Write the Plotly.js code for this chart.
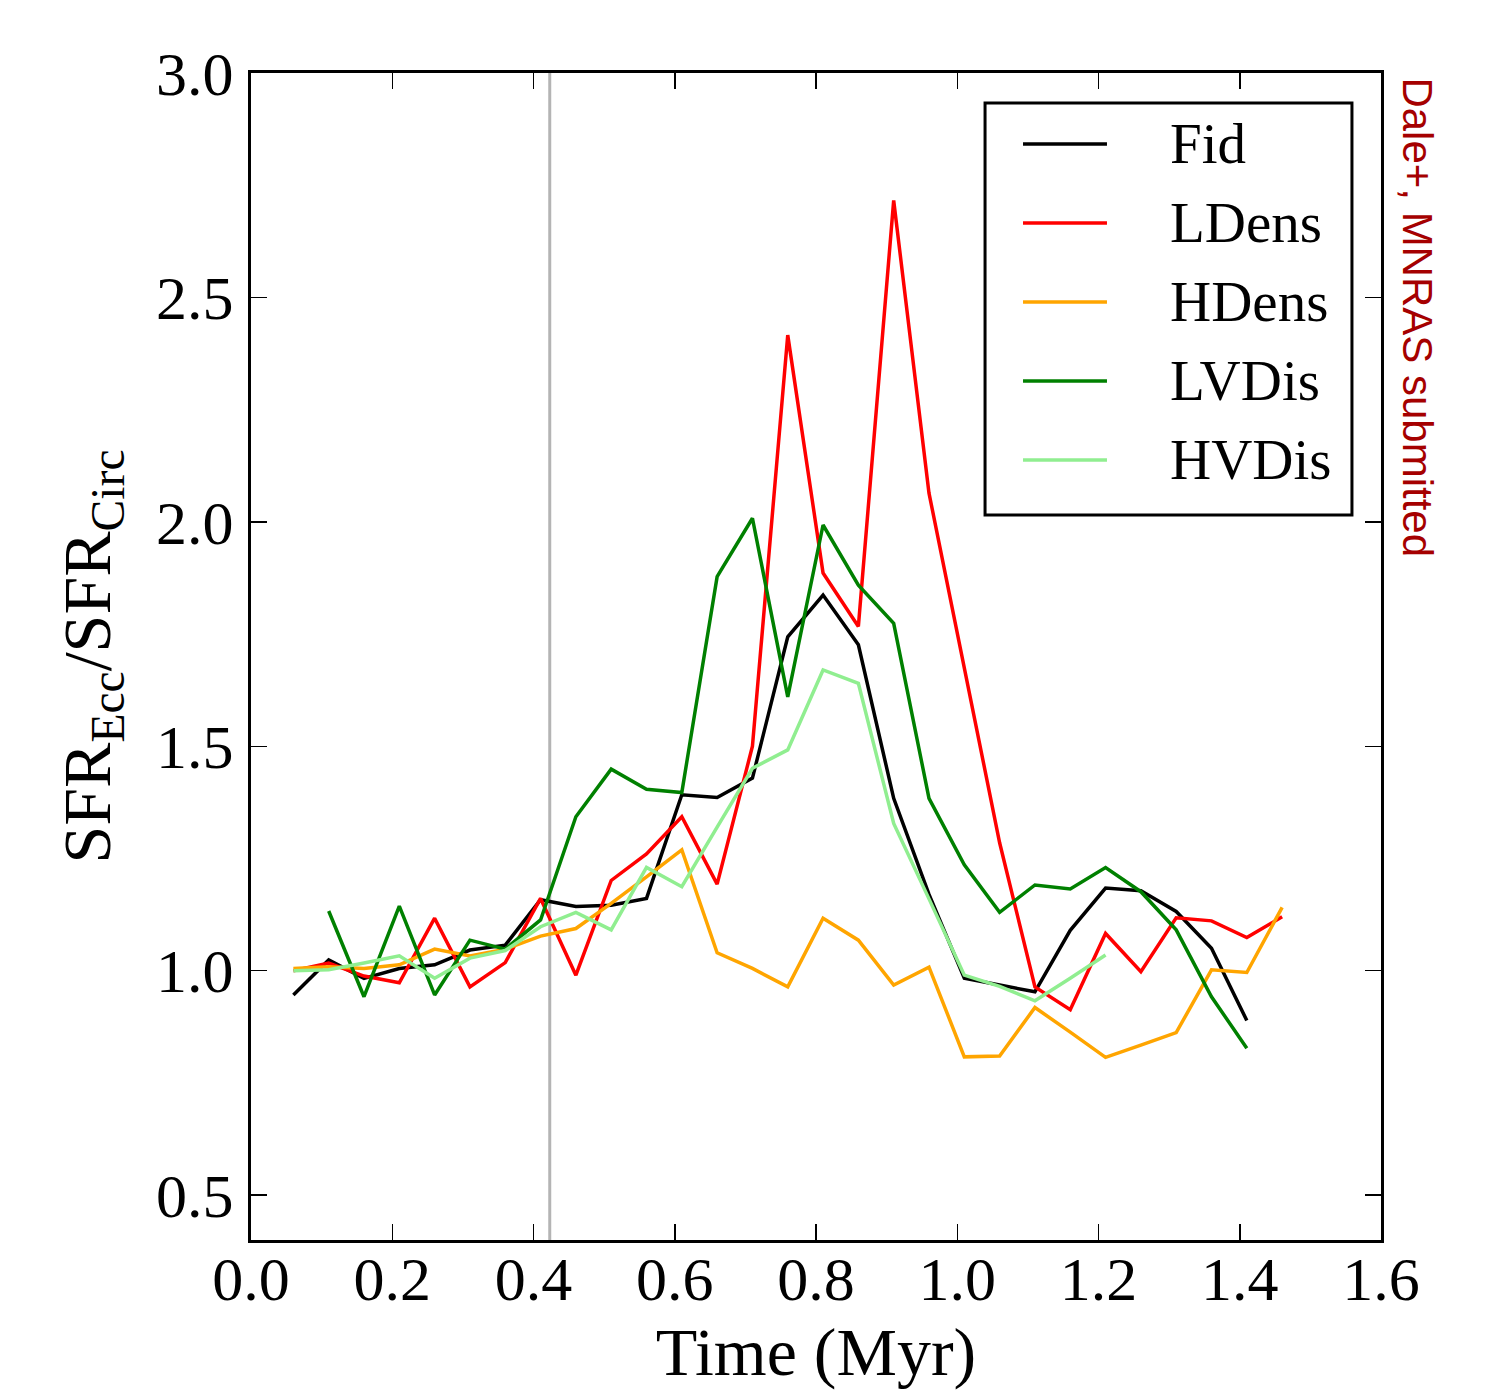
<!DOCTYPE html>
<html>
<head>
<meta charset="utf-8">
<script src="https://cdn.plot.ly/plotly-3.0.1.min.js"></script>
<style>html,body{margin:0;padding:0;background:#fff;}#chart{width:1491px;height:1390px;}</style>
</head>
<body>
<div id="chart"></div>
<script>
// ---- data ----
const timeAll = [0.06,0.11,0.16,0.21,0.26,0.31,0.36,0.41,0.46,0.51,0.56,0.61,0.66,0.71,0.76,0.81,0.86,0.91,0.96,1.01,1.06,1.11,1.16,1.21,1.26,1.31,1.36,1.41,1.46];
const timeFid = timeAll.slice(0, 28);
const timeLDens = timeAll.slice(0, 29);
const timeHDens = timeAll.slice(0, 29);
const timeLVDis = timeAll.slice(1, 28);
const timeHVDis = timeAll.slice(0, 24);

const fid   = [0.946,1.024,0.983,1.005,1.013,1.046,1.057,1.158,1.143,1.146,1.161,1.392,1.386,1.429,1.744,1.837,1.726,1.384,1.17,0.983,0.968,0.953,1.09,1.184,1.178,1.132,1.05,0.889];
const ldens = [1.0,1.017,0.988,0.973,1.117,0.964,1.018,1.161,0.99,1.201,1.26,1.343,1.193,1.50,2.416,1.886,1.767,2.716,2.064,1.67,1.285,0.964,0.913,1.083,0.998,1.118,1.111,1.074,1.12];
const hdens = [1.005,1.009,1.005,1.013,1.048,1.033,1.048,1.077,1.094,1.15,1.209,1.269,1.04,1.005,0.964,1.117,1.068,0.968,1.008,0.808,0.81,0.918,0.863,0.807,0.834,0.862,1.002,0.996,1.141];
const lvdis = [1.133,0.942,1.144,0.946,1.068,1.048,1.113,1.343,1.449,1.404,1.397,1.878,2.008,1.61,1.993,1.859,1.774,1.384,1.236,1.13,1.191,1.182,1.23,1.176,1.091,0.942,0.827];
const hvdis = [1.0,1.002,1.017,1.033,0.983,1.028,1.045,1.098,1.13,1.091,1.23,1.187,1.32,1.451,1.492,1.67,1.64,1.328,1.16,0.99,0.965,0.933,0.983,1.035];

const seriesNames  = ["Fid","LDens","HDens","LVDis","HVDis"];
const seriesColors = ["#000000","#ff0000","#ffa500","#008000","#90ee90"];
const seriesX = [timeFid,timeLDens,timeHDens,timeLVDis,timeHVDis];
const seriesY = [fid,ldens,hdens,lvdis,hvdis];

const markerTime = 0.423;
const xTicks = [0.0,0.2,0.4,0.6,0.8,1.0,1.2,1.4,1.6];
const yTicks = [0.5,1.0,1.5,2.0,2.5,3.0];
const xTitle = "Time (Myr)";
const yTitle = "SFR<sub>Ecc</sub>/SFR<sub>Circ</sub>";
const sideNote = "Dale+, MNRAS submitted";

// ---- figure ----
const serif = "Liberation Serif, Times New Roman, serif";
const traces = seriesNames.map((n, i) => ({
  type: "scatter", mode: "lines", name: n,
  x: seriesX[i], y: seriesY[i],
  line: {color: seriesColors[i], width: 3.5},
  showlegend: false, hoverinfo: "skip"
}));

// custom legend (box, sample lines, labels)
const lgX0 = 0.6496, lgX1 = 0.9743, lgY0 = 0.6213, lgY1 = 0.9743;
const lnX0 = 0.6832, lnX1 = 0.7575, txtX = 0.8115, row0 = 0.9392, rowStep = 0.0677;
const shapes = [
  {type: "line", xref: "x", yref: "paper", x0: markerTime, x1: markerTime, y0: 0, y1: 1,
   line: {color: "#b4b4b4", width: 3}, layer: "below"},
  {type: "rect", xref: "paper", yref: "paper", x0: lgX0, x1: lgX1, y0: lgY0, y1: lgY1,
   line: {color: "#000", width: 3}, fillcolor: "#fff"}
];
const annotations = [];
seriesNames.forEach((n, i) => {
  const yy = row0 - i * rowStep;
  shapes.push({type: "line", xref: "paper", yref: "paper", x0: lnX0, x1: lnX1, y0: yy, y1: yy,
    line: {color: seriesColors[i], width: 3.5}});
  annotations.push({xref: "paper", yref: "paper", x: txtX, y: yy, xanchor: "left", yanchor: "middle",
    text: n, showarrow: false, font: {family: serif, size: 57, color: "#000"}});
});
annotations.push({xref: "paper", yref: "paper", x: 1.0327, y: 0.998, xanchor: "center", yanchor: "top",
  text: sideNote, textangle: 90, showarrow: false,
  font: {family: "Liberation Sans, Arial, sans-serif", size: 42, color: "#a50000"}});

const axisCommon = {
  showgrid: false, zeroline: false, showline: true, linecolor: "#000", linewidth: 3,
  mirror: "ticks", ticks: "inside", ticklen: 16, tickwidth: 1.5, tickcolor: "#000",
  tickfont: {family: serif, size: 62, color: "#000"}
};

const layout = {
  width: 1491, height: 1390,
  margin: {l: 251, r: 110, t: 73, b: 150, autoexpand: false},
  paper_bgcolor: "#fff", plot_bgcolor: "#fff",
  showlegend: false,
  xaxis: Object.assign({}, axisCommon, {
    range: [0, 1.6], tickvals: xTicks, tickformat: ".1f", ticklabelstandoff: -17,
    title: {text: xTitle, font: {family: serif, size: 68, color: "#000"}, standoff: 53}
  }),
  yaxis: Object.assign({}, axisCommon, {
    range: [0.4, 3.0], tickvals: yTicks, tickformat: ".1f", ticklabelstandoff: 2,
    title: {text: yTitle, font: {family: serif, size: 68, color: "#000"}, standoff: 24}
  }),
  shapes: shapes,
  annotations: annotations
};

Plotly.newPlot("chart", traces, layout, {staticPlot: true, displayModeBar: false});
</script>
</body>
</html>
